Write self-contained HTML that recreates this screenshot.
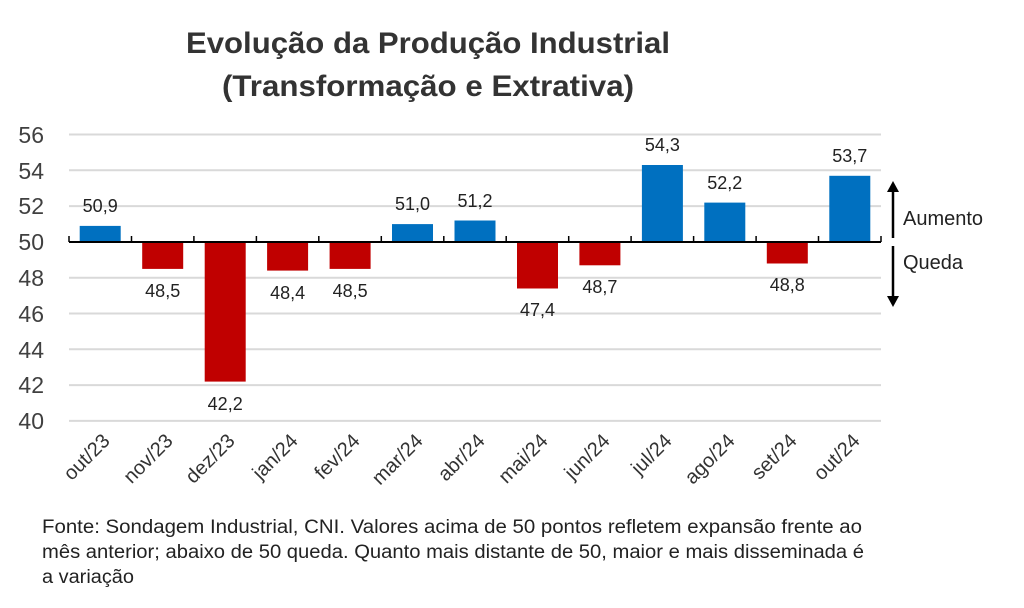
<!DOCTYPE html>
<html><head><meta charset="utf-8"><style>
body{margin:0;background:#fff;}
svg{display:block;font-family:"Liberation Sans",sans-serif;}
</style></head><body>
<svg width="1024" height="608" viewBox="0 0 1024 608">
<text x="428" y="53" text-anchor="middle" font-size="30" font-weight="bold" fill="#333" textLength="484" lengthAdjust="spacingAndGlyphs">Evolução da Produção Industrial</text>
<text x="428" y="96" text-anchor="middle" font-size="30" font-weight="bold" fill="#333" textLength="412" lengthAdjust="spacingAndGlyphs">(Transformação e Extrativa)</text>
<g stroke="#d9d9d9" stroke-width="2">
<line x1="69" x2="881" y1="134.5" y2="134.5"/><line x1="69" x2="881" y1="170.3" y2="170.3"/>
<line x1="69" x2="881" y1="206.1" y2="206.1"/><line x1="69" x2="881" y1="277.7" y2="277.7"/>
<line x1="69" x2="881" y1="313.5" y2="313.5"/><line x1="69" x2="881" y1="349.3" y2="349.3"/>
<line x1="69" x2="881" y1="385.1" y2="385.1"/><line x1="69" x2="881" y1="420.9" y2="420.9"/>
</g>
<g font-size="23" fill="#404040" text-anchor="end">
<text x="44" y="143">56</text><text x="44" y="179">54</text><text x="44" y="214">52</text><text x="44" y="250">50</text>
<text x="44" y="286">48</text><text x="44" y="322">46</text><text x="44" y="358">44</text><text x="44" y="393">42</text><text x="44" y="429">40</text>
</g>
<g>
<rect x="79.7" y="225.9" width="41" height="16.1" fill="#0070c0"/>
<rect x="142.2" y="242" width="41" height="26.9" fill="#c00000"/>
<rect x="204.7" y="242" width="41" height="139.6" fill="#c00000"/>
<rect x="267.1" y="242" width="41" height="28.6" fill="#c00000"/>
<rect x="329.6" y="242" width="41" height="26.9" fill="#c00000"/>
<rect x="392.0" y="224.1" width="41" height="17.9" fill="#0070c0"/>
<rect x="454.5" y="220.5" width="41" height="21.5" fill="#0070c0"/>
<rect x="517.0" y="242" width="41" height="46.5" fill="#c00000"/>
<rect x="579.4" y="242" width="41" height="23.3" fill="#c00000"/>
<rect x="641.9" y="165.0" width="41" height="77" fill="#0070c0"/>
<rect x="704.3" y="202.6" width="41" height="39.4" fill="#0070c0"/>
<rect x="766.8" y="242" width="41" height="21.5" fill="#c00000"/>
<rect x="829.3" y="175.8" width="41" height="66.2" fill="#0070c0"/>
</g>
<line x1="69" x2="881" y1="242" y2="242" stroke="#000" stroke-width="2"/>
<g stroke="#000" stroke-width="1.5">
<line x1="69" x2="69" y1="236" y2="242"/><line x1="131.5" x2="131.5" y1="236" y2="242"/>
<line x1="193.9" x2="193.9" y1="236" y2="242"/><line x1="256.4" x2="256.4" y1="236" y2="242"/>
<line x1="318.8" x2="318.8" y1="236" y2="242"/><line x1="381.3" x2="381.3" y1="236" y2="242"/>
<line x1="443.8" x2="443.8" y1="236" y2="242"/><line x1="506.2" x2="506.2" y1="236" y2="242"/>
<line x1="568.7" x2="568.7" y1="236" y2="242"/><line x1="631.1" x2="631.1" y1="236" y2="242"/>
<line x1="693.6" x2="693.6" y1="236" y2="242"/><line x1="756.1" x2="756.1" y1="236" y2="242"/>
<line x1="818.5" x2="818.5" y1="236" y2="242"/><line x1="881" x2="881" y1="236" y2="242"/>
</g>
<g font-size="18" fill="#222" text-anchor="middle">
<text x="100.2" y="212">50,9</text>
<text x="162.7" y="297">48,5</text>
<text x="225.2" y="410">42,2</text>
<text x="287.6" y="299">48,4</text>
<text x="350.1" y="297">48,5</text>
<text x="412.5" y="210">51,0</text>
<text x="475.0" y="207">51,2</text>
<text x="537.5" y="316">47,4</text>
<text x="599.9" y="293">48,7</text>
<text x="662.4" y="151">54,3</text>
<text x="724.8" y="189">52,2</text>
<text x="787.3" y="291">48,8</text>
<text x="849.8" y="162">53,7</text>
</g>
<g font-size="20" fill="#333" text-anchor="end">
<text transform="translate(111,442) rotate(-45)">out/23</text>
<text transform="translate(174,442) rotate(-45)">nov/23</text>
<text transform="translate(236,442) rotate(-45)">dez/23</text>
<text transform="translate(299,442) rotate(-45)">jan/24</text>
<text transform="translate(361,442) rotate(-45)">fev/24</text>
<text transform="translate(424,442) rotate(-45)">mar/24</text>
<text transform="translate(486,442) rotate(-45)">abr/24</text>
<text transform="translate(549,442) rotate(-45)">mai/24</text>
<text transform="translate(611,442) rotate(-45)">jun/24</text>
<text transform="translate(673,442) rotate(-45)">jul/24</text>
<text transform="translate(736,442) rotate(-45)">ago/24</text>
<text transform="translate(798,442) rotate(-45)">set/24</text>
<text transform="translate(861,442) rotate(-45)">out/24</text>
</g>
<g stroke="#000" stroke-width="2.5">
<line x1="893" y1="238" x2="893" y2="190"/><line x1="893" y1="246" x2="893" y2="298"/>
</g>
<polygon points="887,192 899,192 893,181" fill="#000"/>
<polygon points="887,296 899,296 893,307" fill="#000"/>
<text x="903" y="225" font-size="20" fill="#222">Aumento</text>
<text x="903" y="269" font-size="20" fill="#222">Queda</text>
<g font-size="19" fill="#222">
<text x="42" y="533" textLength="820" lengthAdjust="spacingAndGlyphs">Fonte: Sondagem Industrial, CNI. Valores acima de 50 pontos refletem expansão frente ao</text>
<text x="42" y="558" textLength="822" lengthAdjust="spacingAndGlyphs">mês anterior; abaixo de 50 queda. Quanto mais distante de 50, maior e mais disseminada é</text>
<text x="42" y="583" textLength="92" lengthAdjust="spacingAndGlyphs">a variação</text>
</g>
</svg>
</body></html>
